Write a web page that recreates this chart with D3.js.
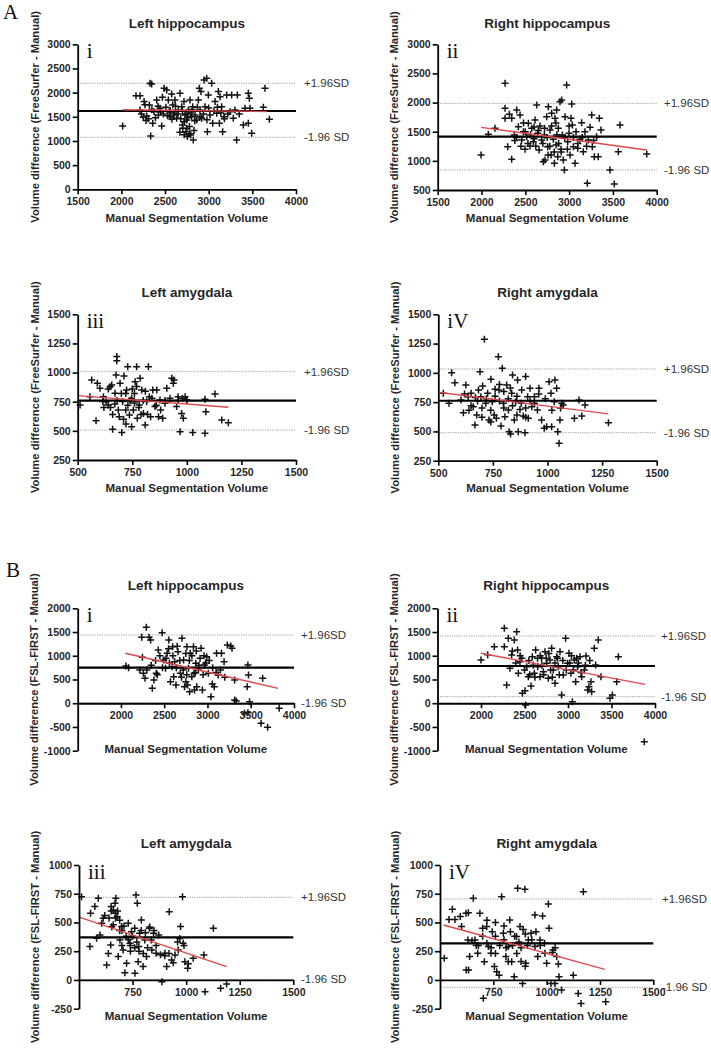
<!DOCTYPE html>
<html><head><meta charset="utf-8">
<script src="https://cdn.jsdelivr.net/npm/d3@7"></script>
<style>
body{margin:0;background:#fff;}
svg text{font-family:"Liberation Sans",Arial,sans-serif;}
svg text.serif{font-family:"Liberation Serif","Times New Roman",serif;}
</style></head><body>
<svg id="chart" width="711" height="1050"></svg>
<script>
// ---------- DATA ----------
const panelTitles = ["Left hippocampus","Right hippocampus","Left amygdala","Right amygdala","Left hippocampus","Right hippocampus","Left amygdala","Right amygdala"];
const panelNumerals = ["i","ii","iii","iV","i","ii","iii","iV"];
const yAxisTitles = ["Volume difference (FreeSurfer - Manual)","Volume difference (FreeSurfer - Manual)","Volume difference (FreeSurfer - Manual)","Volume difference (FreeSurfer - Manual)","Volume difference (FSL-FIRST - Manual)","Volume difference (FSL-FIRST - Manual)","Volume difference (FSL-FIRST - Manual)","Volume difference (FSL-FIRST - Manual)"];
const xAxisTitle = "Manual Segmentation Volume";
const sectionLetters = ["A","B"];
const upperLabel = "+1.96SD";
const lowerLabel = "-1.96 SD";

const xDomains = [[1500,4000],[1500,4000],[500,1500],[500,1500],[1500,4000],[1500,4000],[500,1500],[500,1500]];
const yDomains = [[0,3000],[500,3000],[250,1500],[250,1500],[-1000,2000],[-1000,2000],[-250,1000],[-250,1000]];
const xTickValues = [
  [1500,2000,2500,3000,3500,4000],[1500,2000,2500,3000,3500,4000],
  [500,750,1000,1250,1500],[500,750,1000,1250,1500],
  [2000,2500,3000,3500,4000],[2000,2500,3000,3500,4000],
  [750,1000,1250,1500],[750,1000,1250,1500]];
const yTickValues = [
  [0,500,1000,1500,2000,2500,3000],[500,1000,1500,2000,2500,3000],
  [250,500,750,1000,1250,1500],[250,500,750,1000,1250,1500],
  [-1000,-500,0,500,1000,1500,2000],[-1000,-500,0,500,1000,1500,2000],
  [-250,0,250,500,750,1000],[-250,0,250,500,750,1000]];

const meanDiff = [1620,1415,759,762,749,784,371,318];
const upperLoA = [2193,1987,1008,1033,1438,1417,719,704];
const lowerLoA = [1076,843,507,489,8,138,5,-64];
const regStart = [[2015,1645],[1995,1575],[500,802],[508,832],[2050,1052],[2000,1052],[504,545],[516,478]];
const regEnd   = [[3665,1610],[3886,1186],[1190,702],[1279,650],[3817,314],[3885,398],[1189,116],[1273,92]];

const pointsAi = [[2015,1310],[2168,1938],[2214,1938],[2214,1641],[2260,1814],[2252,1490],[2283,1421],[2290,1517],[2328,2193],[2347,2179],[2336,1103],[2321,1745],[2374,1607],[2359,1366],[2405,1848],[2424,1538],[2443,1676],[2462,1310],[2470,1903],[2489,2090],[2519,2055],[2538,1848],[2549,1607],[2557,1503],[2576,1972],[2588,1745],[2603,1538],[2614,1848],[2633,1469],[2652,1641],[2672,1986],[2691,1710],[2702,1262],[2717,1814],[2729,1538],[2740,1193],[2748,1434],[2756,1090],[2767,1641],[2779,1297],[2786,1848],[2794,1124],[2805,1503],[2817,1710],[2824,1021],[2832,1214],[2844,1538],[2863,1434],[2882,1848],[2893,2090],[2901,1641],[2912,2021],[2920,1469],[2947,2262],[2958,1710],[2977,2297],[2985,1193],[2996,1952],[3015,1538],[3034,2193],[3046,1366],[3073,1814],[3092,1572],[3111,2021],[3123,1366],[3130,1917],[3149,1710],[3160,1193],[3176,1503],[3206,1952],[3244,1607],[3263,1952],[3282,1469],[3320,1021],[3328,1952],[3397,1331],[3416,1676],[3454,1986],[3466,1883],[3454,1366],[3492,1159],[3473,1676],[3645,2090],[3626,1697],[3695,1448],[2230,1560],[2270,1750],[2310,1460],[2350,1650],[2390,1480],[2420,1720],[2450,1600],[2480,1560],[2510,1700],[2530,1520],[2560,1630],[2580,1450],[2600,1580],[2620,1720],[2650,1560],[2680,1460],[2700,1620],[2720,1400],[2740,1560],[2760,1480],[2790,1580],[2810,1650],[2840,1420],[2870,1700],[2900,1500],[2940,1560],[2980,1440],[3000,1680],[3060,1620],[3100,1700],[3140,1580],[3180,1460],[3220,1560],[3300,1640],[3350,1560],[2670,1180],[2720,1130],[2750,1260],[2780,1150],[2700,1330]];

const pointsAii = [[1995,1101],[2078,1455],[2154,1558],[2269,2331],[2269,1902],[2269,1730],[2299,1244],[2318,1799],[2345,1026],[2345,1730],[2375,1444],[2402,1873],[2421,1587],[2440,1787],[2459,1358],[2478,1501],[2497,1198],[2516,1415],[2535,1644],[2554,1255],[2573,1558],[2592,1330],[2611,1701],[2630,1959],[2641,1473],[2657,1187],[2668,1598],[2687,1358],[2706,986],[2718,1444],[2725,1015],[2744,1759],[2756,1244],[2763,1930],[2782,1530],[2794,1101],[2801,1816],[2820,1370],[2832,958],[2839,1730],[2851,1272],[2858,1873],[2870,1072],[2877,1558],[2896,2016],[2908,1198],[2915,2045],[2923,1444],[2934,1015],[2946,843],[2953,1759],[2972,2302],[2984,1330],[2999,1473],[3011,1101],[3022,1730],[3030,1976],[3037,1616],[3049,1244],[3068,958],[3079,1501],[3098,1215],[3124,1370],[3143,1656],[3162,1158],[3181,1501],[3208,614],[3220,1358],[3239,1575],[3258,1787],[3265,1244],[3288,1072],[3314,1415],[3333,1072],[3345,1730],[3364,1530],[3467,843],[3516,603],[3562,1158],[3581,1616],[3886,1118],[2400,1400],[2450,1250],[2500,1500],[2530,1300],[2560,1450],[2600,1380],[2620,1250],[2650,1520],[2700,1300],[2720,1560],[2750,1400],[2780,1250],[2800,1600],[2830,1150],[2860,1450],[2880,1300],[2910,1150],[2950,1400],[2980,1200],[3000,1600],[3050,1400],[3100,1300],[3150,1400],[3200,1250],[3280,1350],[2850,1650],[2760,1100],[2600,1580],[2480,1650],[2380,1350]];

const pointsAiii = [[511,722],[556,793],[564,936],[584,587],[590,908],[602,865],[615,751],[618,793],[640,722],[648,879],[656,893],[660,513],[671,822],[676,979],[679,1137],[679,1102],[686,679],[694,908],[702,485],[706,751],[712,971],[721,559],[724,851],[729,1051],[737,636],[747,779],[747,536],[755,679],[763,922],[770,1051],[773,608],[782,722],[786,951],[793,851],[801,650],[809,550],[816,751],[824,1051],[828,793],[834,622],[844,851],[854,708],[862,851],[870,622],[877,765],[889,608],[900,736],[908,865],[923,779],[931,951],[938,908],[941,936],[953,708],[960,793],[969,493],[976,650],[984,608],[992,793],[999,765],[1027,485],[1083,479],[1087,665],[1083,771],[1129,816],[1160,593],[1190,570],[630,750],[650,700],[660,640],[680,760],[700,820],[720,680],[740,760],[760,820],[780,700],[800,760],[820,640],[840,780],[860,720],[880,680],[900,760],[690,620],[710,600],[730,720],[750,860],[770,880],[790,640],[810,840],[620,700],[640,860],[670,730],[960,760],[980,780],[1000,760],[720,820],[760,740]];

const pointsAiv = [[523,825],[549,740],[561,1002],[576,916],[604,768],[615,660],[626,896],[637,797],[650,825],[660,711],[668,555],[676,640],[684,853],[691,1010],[695,797],[703,888],[711,1286],[717,740],[726,825],[732,597],[741,945],[747,754],[756,640],[766,612],[775,1138],[778,853],[787,546],[793,1039],[798,740],[805,626],[813,896],[821,683],[824,498],[831,478],[836,825],[840,982],[848,597],[854,754],[863,939],[866,498],[874,688],[882,853],[889,631],[897,489],[900,968],[909,797],[912,612],[920,868],[928,711],[940,797],[954,683],[961,868],[973,597],[985,526],[996,540],[1007,925],[1016,825],[1019,540],[1031,754],[1034,939],[1042,868],[1047,498],[1053,398],[1057,597],[1065,740],[1072,725],[1123,612],[1144,768],[1157,631],[1172,725],[1279,575],[620,820],[650,720],[680,760],[700,700],[720,780],[740,680],[760,800],[780,760],[800,700],[820,780],[840,720],[860,800],[880,740],[900,700],[920,760],[940,740],[960,820],[990,780],[760,860],[800,840],[700,620],[740,580],[860,640],[900,620],[1020,680],[1060,700],[780,900],[830,870],[670,790],[640,680]];

const pointsBi = [[2057,784],[2088,749],[2217,700],[2248,967],[2293,1600],[2240,1389],[2324,1389],[2343,1333],[2259,630],[2278,525],[2362,314],[2381,489],[2408,630],[2431,1122],[2476,1487],[2495,911],[2515,735],[2534,1052],[2553,1333],[2572,454],[2591,770],[2598,1192],[2621,876],[2636,384],[2659,1087],[2686,630],[2705,1368],[2724,911],[2735,349],[2750,454],[2762,1192],[2781,735],[2793,244],[2800,1052],[2819,560],[2838,1192],[2850,279],[2865,841],[2876,349],[2895,700],[2914,946],[2926,1157],[2941,279],[2964,806],[2991,981],[3010,630],[3040,138],[3055,405],[3078,349],[3105,1052],[3124,595],[3162,1052],[3192,876],[3230,1227],[3269,1206],[3284,1157],[3314,489],[3314,68],[3333,47],[3467,806],[3474,595],[3459,349],[3486,33],[3429,-213],[3467,-199],[3638,525],[3619,-424],[3695,-508],[3829,-108],[2610,560],[2770,384],[2845,630],[2350,800],[2400,900],[2450,1000],[2480,750],[2520,950],[2560,850],[2600,1000],[2640,750],[2680,900],[2700,550],[2720,700],[2760,600],[2790,900],[2820,1000],[2860,650],[2900,800],[2950,600],[2980,850],[3020,900],[3060,750],[3100,650],[3150,700],[3200,550],[2550,1150],[2650,1200],[2750,1050],[2870,1100],[2960,1000],[2300,700],[2420,600]];

const pointsBii = [[2000,911],[2077,1023],[2153,1192],[2268,1578],[2268,1192],[2295,384],[2314,1368],[2333,735],[2352,1016],[2383,1333],[2410,1508],[2421,1122],[2429,630],[2448,876],[2475,208],[2506,265],[2513,-37],[2525,770],[2544,560],[2575,363],[2590,981],[2613,630],[2628,1122],[2652,770],[2678,560],[2697,946],[2717,665],[2736,1087],[2755,841],[2774,525],[2793,911],[2812,1157],[2831,700],[2851,419],[2870,981],[2889,770],[2908,1087],[2927,173],[2946,595],[2973,1368],[2996,841],[3011,1052],[3034,630],[3050,33],[3073,911],[3088,454],[3111,770],[3138,981],[3157,560],[3188,700],[3207,995],[3226,279],[3241,349],[3264,454],[3272,244],[3302,1157],[3318,806],[3348,1333],[3379,560],[3483,103],[3510,173],[3579,981],[3560,454],[3877,-810],[2400,850],[2450,1000],[2500,700],[2550,900],[2600,800],[2650,950],[2700,800],[2720,600],[2750,950],[2800,700],[2850,850],[2900,600],[2940,900],[2980,700],[3020,850],[3060,700],[3100,950],[3150,650],[3200,800],[3250,900],[2560,600],[2680,1000],[2780,1050],[2880,950],[3040,1000],[2620,550],[2820,550],[2470,950],[2360,1100],[3120,850]];

const pointsBiii = [[512,724],[551,290],[554,580],[574,638],[582,362],[590,710],[598,391],[606,493],[613,536],[629,130],[637,231],[648,304],[653,463],[660,608],[668,667],[672,710],[678,551],[683,203],[691,348],[699,464],[706,261],[714,63],[722,145],[730,493],[738,319],[745,420],[766,739],[761,58],[772,667],[776,159],[779,290],[783,406],[791,522],[799,116],[807,348],[815,203],[828,450],[837,348],[848,406],[860,232],[872,391],[887,-15],[901,232],[909,116],[921,594],[932,174],[948,218],[963,261],[974,464],[983,724],[986,319],[994,159],[1007,101],[1033,188],[1088,-102],[1083,217],[1127,449],[1161,-73],[1189,-35],[620,560],[640,540],[650,600],[660,480],[670,540],[680,600],[690,520],[700,430],[710,470],[720,380],[730,350],[740,300],[750,380],[760,280],[770,330],[780,250],[790,430],[800,230],[810,410],[820,280],[840,260],[860,300],[880,220],[900,210],[920,230],[940,150],[960,330],[970,360],[990,300],[1010,140],[650,640],[670,580],[700,300],[740,250],[830,460],[850,430],[690,430],[760,450]];

const pointsBiv = [[520,188],[542,527],[558,614],[570,527],[595,551],[601,464],[622,580],[633,585],[631,348],[623,87],[634,87],[639,203],[656,710],[664,348],[677,232],[687,580],[703,-160],[708,159],[719,464],[727,290],[739,232],[745,420],[755,116],[766,72],[777,42],[789,724],[797,406],[809,203],[820,290],[827,522],[836,159],[848,29],[859,377],[864,797],[875,464],[887,-30],[898,788],[902,145],[914,348],[927,406],[945,565],[945,290],[958,203],[969,348],[981,556],[992,232],[1000,145],[1008,661],[1011,449],[1020,-30],[1027,238],[1039,-30],[1047,203],[1055,139],[1058,29],[1070,-88],[1125,42],[1148,-117],[1172,768],[1161,-204],[1277,-189],[680,300],[700,380],[720,320],[740,280],[760,380],[780,300],[800,350],[810,280],[830,420],[850,380],[870,330],[880,280],[890,440],[900,400],[910,300],[930,350],[950,420],[970,300],[990,320],[700,450],[720,520],[760,500],[800,470],[840,300],[860,230],[880,160],[900,120],[820,160],[760,230],[650,340],[670,300],[1030,260],[1040,280]];

const panelPoints = [pointsAi,pointsAii,pointsAiii,pointsAiv,pointsBi,pointsBii,pointsBiii,pointsBiv];

// ---------- LAYOUT (pixels) ----------
const layout = [
  {x0:77.7, x1:296,   yT:44.3,  yB:189.3, titleY:27.5,  xTitleY:221.5, yTitleX:39,  lblX:304},
  {x0:437.7,x1:656.7, yT:44.3,  yB:190,   titleY:27.5,  xTitleY:221.5, yTitleX:398, lblX:664},
  {x0:77.7, x1:296,   yT:314.3, yB:460,   titleY:297,   xTitleY:492,   yTitleX:39,  lblX:304},
  {x0:438.3,x1:656.7, yT:314.3, yB:460.7, titleY:297,   xTitleY:492,   yTitleX:399, lblX:664},
  {x0:77.7, x1:294,   yT:608.3, yB:750.7, titleY:590,   xTitleY:752.5, yTitleX:38,  lblX:301},
  {x0:437.5,x1:655,   yT:608.3, yB:750.7, titleY:590,   xTitleY:752.5, yTitleX:398, lblX:661},
  {x0:79,   x1:293.3, yT:865,   yB:1008.7,titleY:848,   xTitleY:1020,  yTitleX:39,  lblX:301},
  {x0:440,  x1:653.3, yT:865,   yB:1008.7,titleY:848,   xTitleY:1020,  yTitleX:399, lblX:662}
];
const letterPos = [[3,19],[6,577]];

const svg = d3.select('#chart');
const TXT = '#262626';

sectionLetters.forEach((s,i)=>{
  svg.append('text').attr('class','serif').attr('x',letterPos[i][0]).attr('y',letterPos[i][1])
    .attr('font-size',21).attr('fill','#111').text(s);
});

panelPoints.forEach((pts,i)=>{
  const L = layout[i];
  const x = d3.scaleLinear().domain(xDomains[i]).range([L.x0, L.x1]);
  const y = d3.scaleLinear().domain(yDomains[i]).range([L.yB, L.yT]);
  const g = svg.append('g');

  // limits of agreement (dotted)
  [upperLoA[i], lowerLoA[i]].forEach(v=>{
    g.append('line').attr('x1',L.x0).attr('x2',L.x1).attr('y1',y(v)).attr('y2',y(v))
      .attr('stroke','#9c9c9c').attr('stroke-width',1).attr('stroke-dasharray','1.2,1.2');
  });
  g.append('text').attr('x',L.lblX).attr('y',y(upperLoA[i])).attr('dy','0.35em')
    .attr('font-size',11.5).attr('fill','#333').text(upperLabel);
  g.append('text').attr('x',L.lblX).attr('y',y(lowerLoA[i])).attr('dy','0.35em')
    .attr('font-size',11.5).attr('fill','#333').text(lowerLabel);

  // points
  const s = 3.5;
  g.selectAll('path.pt').data(pts).join('path').attr('class','pt')
    .attr('d', d=>`M${x(d[0])-s},${y(d[1])}h${2*s}M${x(d[0])},${y(d[1])-s}v${2*s}`)
    .attr('stroke','#111').attr('stroke-width',1.5).attr('fill','none');

  // mean line
  g.append('line').attr('x1',L.x0).attr('x2',L.x1).attr('y1',y(meanDiff[i])).attr('y2',y(meanDiff[i]))
    .attr('stroke','#000').attr('stroke-width',2.2);

  // regression line
  g.append('line').attr('x1',x(regStart[i][0])).attr('y1',y(regStart[i][1]))
    .attr('x2',x(regEnd[i][0])).attr('y2',y(regEnd[i][1]))
    .attr('stroke','#e2474b').attr('stroke-width',1.4);

  // axes
  const yAxis = d3.axisLeft(y).tickValues(yTickValues[i]).tickSize(5).tickPadding(2)
    .tickSizeOuter(0).tickFormat(d=>String(d));
  const ya = g.append('g').attr('transform',`translate(${L.x0},0)`).call(yAxis);
  const xAxisPos = yDomains[i][0] < 0 ? y(0) : y(yDomains[i][0]);
  const xAxis = d3.axisBottom(x).tickValues(xTickValues[i]).tickSize(5).tickPadding(3.5)
    .tickSizeOuter(0).tickFormat(d=>String(d));
  const xa = g.append('g').attr('transform',`translate(0,${xAxisPos})`).call(xAxis);
  [ya,xa].forEach(a=>{
    a.select('.domain').attr('stroke','#000').attr('stroke-width',1.8);
    a.selectAll('.tick line').attr('stroke','#000').attr('stroke-width',1.6);
    a.selectAll('.tick text').attr('font-size',10.5).attr('font-weight','bold')
      .attr('fill',TXT).style('font-family','"Liberation Sans",Arial,sans-serif');
  });

  g.append('text').attr('x',(L.x0+L.x1)/2).attr('y',L.titleY).attr('text-anchor','middle')
    .attr('font-size',13.5).attr('font-weight','bold').attr('fill',TXT).text(panelTitles[i]);
  g.append('text').attr('x',(L.x0+L.x1)/2).attr('y',L.xTitleY).attr('text-anchor','middle')
    .attr('font-size',11.5).attr('font-weight','bold').attr('fill',TXT).text(xAxisTitle);
  g.append('text').attr('transform',`translate(${L.yTitleX},${(L.yT+L.yB)/2}) rotate(-90)`)
    .attr('text-anchor','middle').attr('font-size',11.2).attr('font-weight','bold')
    .attr('fill',TXT).text(yAxisTitles[i]);
  g.append('text').attr('class','serif').attr('x',L.x0+9).attr('y',L.yT+13.5)
    .attr('font-size',21).attr('fill','#111').text(panelNumerals[i]);
});
</script>
</body></html>
